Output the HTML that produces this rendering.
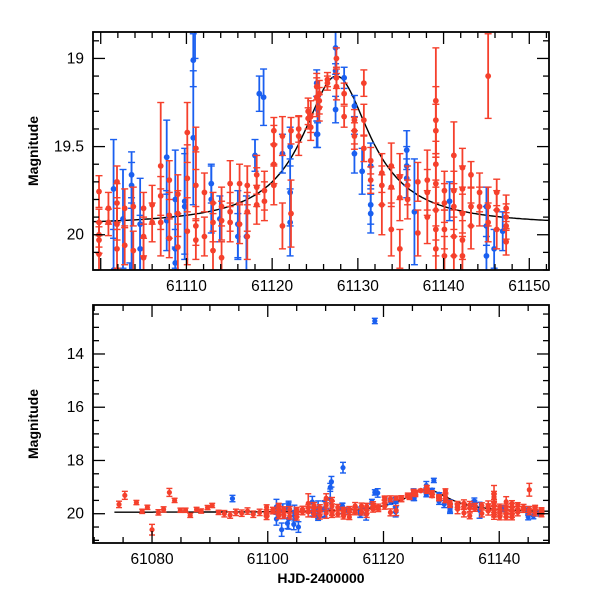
<!DOCTYPE html>
<html><head><meta charset="utf-8"><style>
body{margin:0;background:#fff;}
svg text{font-family:"Liberation Sans",sans-serif;fill:#000;}
</style></head><body>
<svg id="chart" width="600" height="600" xmlns="http://www.w3.org/2000/svg"></svg>
<script>
// ---- data: [date, magnitude, error] ----
const redDates = [61099.8,61099.8,61099.8,61099.8,61099.8,61100.9,61100.9,61101.9,61101.9,61101.9,61101.9,61102.8,61102.8,61103.8,61103.8,61105.0,61105.0,61105.0,61106.0,61106.0,61107.0,61107.0,61107.0,61108.0,61108.0,61108.0,61109.0,61109.0,61109.0,61110.1,61110.1,61110.1,61111.1,61111.1,61111.1,61111.1,61112.1,61112.1,61113.1,61113.1,61113.1,61114.1,61114.1,61114.1,61115.1,61115.1,61115.1,61116.2,61116.2,61117.1,61117.1,61117.1,61118.2,61118.2,61118.2,61119.1,61119.1,61120.2,61120.2,61120.2,61120.2,61121.2,61121.2,61122.2,61122.2,61123.1,61123.1,61124.2,61124.2,61125.2,61125.2,61124.5,61124.5,61125.5,61125.5,61125.5,61126.45,61126.45,61127.5,61127.5,61127.5,61128.4,61128.4,61129.6,61129.6,61129.6,61130.7,61130.7,61130.7,61131.5,61131.5,61132.8,61132.8,61132.8,61133.9,61133.9,61133.9,61134.9,61134.9,61134.9,61135.8,61135.8,61137.0,61137.0,61138.1,61138.1,61138.1,61139.1,61139.1,61139.1,61139.1,61139.1,61139.1,61139.1,61139.1,61140.1,61140.1,61140.1,61140.1,61141.2,61141.2,61141.2,61141.2,61141.2,61142.2,61142.2,61142.2,61142.2,61142.2,61143.2,61143.2,61143.2,61144.2,61144.2,61145.2,61145.2,61145.2,61146.2,61146.2,61146.2,61147.3,61147.3,61147.3,61147.3,
61074.3,61075.3,61077.3,61078.3,61079.2,61080.0,61081.1,61082.0,61083.0,61083.9,61084.9,61085.8,61086.6,61087.7,61088.5,61089.6,61090.4,61091.5,61092.5,61093.5,61094.5,61095.5,61096.5,61097.5,61098.6];
const redMags = [19.755,19.93,20.00,20.03,20.11,19.85,19.93,19.70,19.82,19.94,20.08,19.85,20.06,19.84,20.09,19.85,20.01,20.13,19.83,19.93,19.61,19.78,19.93,19.69,19.89,20.02,19.77,19.88,20.07,19.42,19.68,19.98,19.51,19.72,19.95,20.03,19.76,20.01,19.82,19.93,20.09,19.84,19.92,20.13,19.71,19.87,19.93,19.71,19.94,19.72,19.87,20.01,19.66,19.73,19.83,19.75,19.81,19.41,19.49,19.60,19.72,19.44,19.95,19.41,19.88,19.40,19.44,19.30,19.34,19.16,19.22,19.33,19.39,19.20,19.24,19.28,19.12,19.14,19.00,19.11,19.16,19.20,19.33,19.35,19.41,19.44,19.14,19.35,19.51,19.58,19.69,19.65,19.72,19.83,19.61,19.73,19.97,19.67,19.79,20.08,19.72,19.80,19.70,19.99,19.69,19.76,19.90,19.24,19.35,19.41,19.60,19.71,19.86,19.97,20.08,19.75,19.82,19.97,20.12,19.55,19.75,19.84,20.01,20.12,19.62,19.74,19.88,20.03,20.12,19.66,19.84,19.95,19.76,19.84,19.10,19.84,19.93,19.76,19.86,19.97,19.85,19.90,19.95,20.04,
19.65,19.31,19.58,19.91,19.76,20.6,19.95,19.84,19.2,19.5,19.87,19.87,20.06,19.84,19.9,19.77,19.69,19.95,20.0,20.05,19.95,19.98,19.9,20.02,19.95];
const redErrs = [0.09,0.075,0.07,0.075,0.11,0.09,0.075,0.09,0.11,0.09,0.11,0.11,0.11,0.11,0.11,0.09,0.11,0.11,0.11,0.11,0.36,0.11,0.19,0.11,0.13,0.11,0.11,0.13,0.13,0.17,0.19,0.19,0.12,0.19,0.11,0.11,0.11,0.11,0.06,0.11,0.11,0.11,0.11,0.09,0.13,0.11,0.11,0.11,0.11,0.11,0.11,0.13,0.11,0.11,0.11,0.11,0.11,0.075,0.11,0.11,0.11,0.11,0.13,0.075,0.19,0.075,0.11,0.075,0.06,0.075,0.11,0.09,0.075,0.075,0.075,0.075,0.04,0.04,0.06,0.06,0.075,0.06,0.06,0.06,0.075,0.075,0.075,0.09,0.075,0.075,0.075,0.11,0.11,0.17,0.13,0.11,0.15,0.13,0.13,0.11,0.11,0.11,0.11,0.13,0.17,0.13,0.15,0.30,0.19,0.15,0.13,0.15,0.17,0.15,0.13,0.11,0.11,0.11,0.11,0.19,0.11,0.13,0.11,0.11,0.11,0.13,0.11,0.11,0.11,0.075,0.11,0.13,0.11,0.11,0.24,0.11,0.11,0.075,0.11,0.11,0.075,0.075,0.075,0.075,
0.12,0.15,0.08,0.08,0.08,0.2,0.1,0.1,0.15,0.08,0.08,0.08,0.08,0.08,0.08,0.08,0.08,0.08,0.12,0.12,0.12,0.12,0.12,0.12,0.12];
const blueDates = [61101.5,61101.5,61102.6,61103.6,61103.6,61103.6,61104.6,61104.6,61107.7,61107.7,61108.7,61108.7,61108.7,61109.8,61109.8,61110.8,61110.8,61112.9,61112.9,61113.9,61116.0,61116.0,61117.0,61118.0,61119.0,61121.2,61122.1,61122.1,61122.1,61125.2,61125.2,61125.3,61125.3,61127.4,61127.4,61127.4,61128.4,61129.6,61129.6,61130.5,61131.5,61131.5,61131.5,61135.7,61135.7,61135.7,61136.6,61140.7,61145.0,61145.0,61145.0,61145.9,61146.9,
61093.9,61118.5,61118.5,61113.0,61111.0,61102.4,61103.4,61104.5,61105.3,61128.7];
const blueMags = [19.74,20.2,19.91,19.66,19.72,20.2,19.94,20.08,19.56,19.92,19.80,20.08,20.16,19.81,19.84,19.01,19.45,19.71,19.80,19.91,19.94,20.01,20.01,19.55,19.22,19.54,19.50,19.76,19.93,19.14,19.43,19.43,19.29,19.07,19.29,18.94,19.11,19.54,19.27,19.64,19.61,19.83,19.88,19.52,19.61,19.68,19.87,19.81,19.84,19.95,20.12,20.08,19.98,
19.43,12.76,19.2,18.27,18.8,20.6,20.36,20.4,20.5,18.75];
const blueErrs = [0.28,0.23,0.28,0.13,0.13,0.38,0.26,0.19,0.21,0.17,0.28,0.11,0.09,0.30,0.30,0.15,0.38,0.11,0.19,0.13,0.19,0.13,0.23,0.09,0.16,0.11,0.11,0.19,0.19,0.075,0.075,0.075,0.075,0.04,0.075,0.15,0.06,0.11,0.06,0.13,0.13,0.11,0.11,0.11,0.11,0.11,0.30,0.11,0.11,0.11,0.11,0.11,0.11,
0.12,0.1,0.1,0.2,0.2,0.25,0.2,0.2,0.2,0.08];
const topXTicks = [61110,61120,61130,61140,61150];
const topYTicks = [19,19.5,20];
const botXTicks = [61080,61100,61120,61140];
const botYTicks = [14,16,18,20];
// model: magnitude = base - amp/(1+((t-t0)/w)^2)
const modelBase = 19.95, modelAmp = 0.85, modelT0 = 61127.5, modelW = 4.84;

const NS = "http://www.w3.org/2000/svg";
const svg = document.getElementById('chart');
function mk(tag, attrs, parent){const e=document.createElementNS(NS,tag);for(const k in attrs)e.setAttribute(k,attrs[k]);(parent||svg).appendChild(e);return e;}

const panels = [
 {name:'top', x0:93, x1:549, y0:32, y1:270, d0:61099.1, d1:61152.3, m0:18.85, m1:20.2, xt:topXTicks, xminor:2, yt:topYTicks, yminor:0.1, r:2.9, cap:3.5, xs:61099.1, ew:1.8},
 {name:'bottom', x0:93, x1:549, y0:305, y1:543, d0:61069.8, d1:61148.6, m0:12.16, m1:21.1, xt:botXTicks, xminor:5, yt:botYTicks, yminor:0.5, r:2.6, cap:3, xs:61073.5, ew:1.6}
];

panels.forEach((p,pi)=>{
  const X = d => p.x0 + (d-p.d0)/(p.d1-p.d0)*(p.x1-p.x0);
  const Y = m => p.y0 + (m-p.m0)/(p.m1-p.m0)*(p.y1-p.y0);
  const g = mk('g',{});
  
  
  const cp = mk('clipPath',{id:'clip'+pi},g);
  mk('rect',{x:p.x0,y:p.y0,width:p.x1-p.x0,height:p.y1-p.y0},cp);
  const plot = mk('g',{'clip-path':'url(#clip'+pi+')'},g);
  
  
  let pts=[];
  for(let t=p.xs;t<=p.d1;t+=0.2){const m=modelBase-modelAmp/(1+Math.pow((t-modelT0)/modelW,2));pts.push(X(t).toFixed(1)+','+Y(m).toFixed(1));}
  const curve = mk('polyline',{points:pts.join(' '),fill:'none',stroke:'#000','stroke-width':1.4},plot);
  
  
  function series(ds,ms,es,col,nm){
    const sg = mk('g',{stroke:col,fill:col},plot);
    
    
    for(let i=0;i<ds.length;i++){
      const x=X(ds[i]), y=Y(ms[i]), ya=Y(ms[i]-es[i]), yb=Y(ms[i]+es[i]);
      const pt = mk('g',{},sg);
      
      
      mk('line',{x1:x,x2:x,y1:ya,y2:yb,'stroke-width':p.ew},pt);
      mk('line',{x1:x-p.cap,x2:x+p.cap,y1:ya,y2:ya,'stroke-width':1.4},pt);
      mk('line',{x1:x-p.cap,x2:x+p.cap,y1:yb,y2:yb,'stroke-width':1.4},pt);
      mk('circle',{cx:x,cy:y,r:p.r,stroke:'none'},pt);
    }
  }
  series(blueDates,blueMags,blueErrs,'#1a5ff0','blue');
  series(redDates,redMags,redErrs,'#f5402c','red');
  const fr = mk('rect',{x:p.x0,y:p.y0,width:p.x1-p.x0,height:p.y1-p.y0,fill:'none',stroke:'#000','stroke-width':1.8},g);
  
  
  const tg = mk('g',{stroke:'#000','stroke-width':1.3},g);
  
  
  const dStart=Math.ceil(p.d0/p.xminor)*p.xminor;
  for(let d=dStart; d<=p.d1; d+=p.xminor){
    const major = (Math.round(d)%10===0 && pi===0) || (Math.round(d)%20===0 && pi===1);
    const L = major?12:6, x=X(d);
    mk('line',{x1:x,x2:x,y1:p.y1,y2:p.y1-L},tg); mk('line',{x1:x,x2:x,y1:p.y0,y2:p.y0+L},tg);
  }
  const mStart=Math.ceil(p.m0/p.yminor-1e-6)*p.yminor;
  for(let m=mStart; m<=p.m1+1e-9; m+=p.yminor){
    const mr=Math.round(m*100)/100;
    const major = p.yt.some(v=>Math.abs(v-mr)<1e-6);
    const L = major?12:6, y=Y(mr);
    mk('line',{x1:p.x0,x2:p.x0+L,y1:y,y2:y},tg); mk('line',{x1:p.x1,x2:p.x1-L,y1:y,y2:y},tg);
  }
  p.xt.forEach(v=>{const t=mk('text',{x:X(v),y:p.y1+21,'text-anchor':'middle','font-size':15.5},g);t.textContent=v;
    
    });
  p.yt.forEach(v=>{const t=mk('text',{x:p.x0-9,y:Y(v)+5,'text-anchor':'end','font-size':15.5},g);t.textContent=v;
    
    });
  const yt = mk('text',{x:0,y:0,'text-anchor':'middle','font-size':14,'font-weight':'bold',transform:'translate(38,'+((p.y0+p.y1)/2)+') rotate(-90)'},g);
  yt.textContent='Magnitude';
  
  
});
const xt = mk('text',{x:321,y:583,'text-anchor':'middle','font-size':14,'font-weight':'bold'});
xt.textContent='HJD-2400000';


</script>
</body></html>
